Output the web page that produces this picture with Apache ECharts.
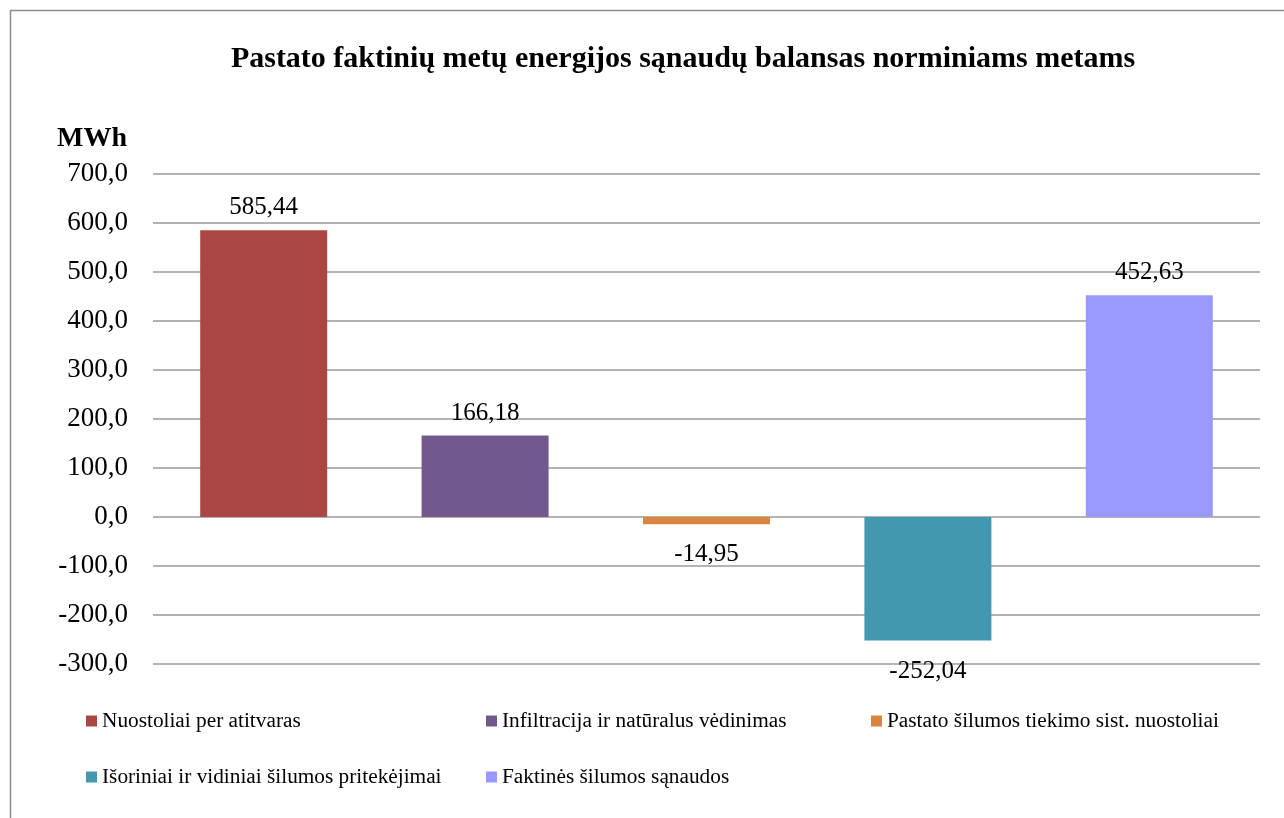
<!DOCTYPE html>
<html>
<head>
<meta charset="utf-8">
<script src="https://cdn.jsdelivr.net/npm/echarts@6/dist/echarts.min.js"></script>
<style>
  html, body { margin: 0; padding: 0; background: #ffffff; }
  #chart { width: 1284px; height: 818px; }
</style>
</head>
<body>
<div id="chart"></div>
<script>
// Energy balance components, MWh
const categories = [
  'Nuostoliai per atitvaras',
  'Infiltracija ir natūralus vėdinimas',
  'Pastato šilumos tiekimo sist. nuostoliai',
  'Išoriniai ir vidiniai šilumos pritekėjimai',
  'Faktinės šilumos sąnaudos'
];
const values = [585.44, 166.18, -14.95, -252.04, 452.63];
const colors = ['#AA4643', '#71588F', '#DB843D', '#4198AF', '#9999FF'];
const yTicks = { min: -300, max: 700, step: 100 };

const FONT = 'Liberation Serif';
const comma = (v, d) => v.toFixed(d).replace('.', ',');

// one series per component so each gets its own legend entry;
// a shared stack keeps every bar centred in its category slot
const series = categories.map((name, i) => ({
  name: name,
  type: 'bar',
  stack: 'balance',
  barWidth: 127,
  itemStyle: { color: colors[i] },
  data: categories.map((_, j) => (j === i ? values[i] : null)),
  label: {
    show: true,
    position: values[i] >= 0 ? 'top' : 'bottom',
    distance: values[i] >= 0 ? 10 : 18,
    fontFamily: FONT,
    fontSize: 25,
    fontWeight: 'normal',
    color: '#000',
    formatter: p => comma(p.value, 2)
  }
}));

const legendBase = {
  orient: 'vertical',
  padding: 0,
  top: 710,
  itemGap: 34,
  itemWidth: 11,
  itemHeight: 11,
  icon: 'rect',
  selectedMode: false,
  textStyle: { fontFamily: FONT, fontSize: 21.3, color: '#000', lineHeight: 22 }
};

const chart = echarts.init(document.getElementById('chart'), null, { renderer: 'canvas' });
chart.setOption({
  animation: false,
  backgroundColor: '#ffffff',
  textStyle: { fontFamily: FONT },
  grid: { left: 153, right: 24, top: 174, bottom: 154, containLabel: false },
  xAxis: {
    type: 'category',
    data: categories,
    axisLine: { show: false },
    axisTick: { show: false },
    axisLabel: { show: false }
  },
  yAxis: {
    type: 'value',
    min: yTicks.min,
    max: yTicks.max,
    interval: yTicks.step,
    axisLine: { show: false },
    axisTick: { show: false },
    axisLabel: {
      margin: 25,
      fontFamily: FONT,
      fontSize: 27,
      color: '#000',
      padding: [4, 0, 0, 0],
      formatter: v => comma(v, 1)
    },
    splitLine: { lineStyle: { color: '#9a9a9a', width: 1.5 } }
  },
  legend: [
    Object.assign({}, legendBase, { left: 86, data: [categories[0], categories[3]] }),
    Object.assign({}, legendBase, { left: 486, data: [categories[1], categories[4]] }),
    Object.assign({}, legendBase, { left: 871, data: [categories[2]] })
  ],
  graphic: [
    {
      type: 'rect',
      silent: true,
      shape: { x: 10.5, y: 10.5, width: 1400, height: 900 },
      style: { fill: 'none', stroke: '#8c8c8c', lineWidth: 1.5 }
    },
    {
      type: 'text',
      silent: true,
      x: 683,
      y: 59,
      style: {
        text: 'Pastato faktinių metų energijos sąnaudų balansas norminiams metams',
        fontFamily: FONT,
        fontWeight: 'bold',
        fontSize: 30,
        fill: '#000',
        align: 'center',
        verticalAlign: 'middle'
      }
    },
    {
      type: 'text',
      silent: true,
      x: 127,
      y: 139,
      style: {
        text: 'MWh',
        fontFamily: FONT,
        fontWeight: 'bold',
        fontSize: 28,
        fill: '#000',
        align: 'right',
        verticalAlign: 'middle'
      }
    }
  ],
  series: series
});
</script>
</body>
</html>
